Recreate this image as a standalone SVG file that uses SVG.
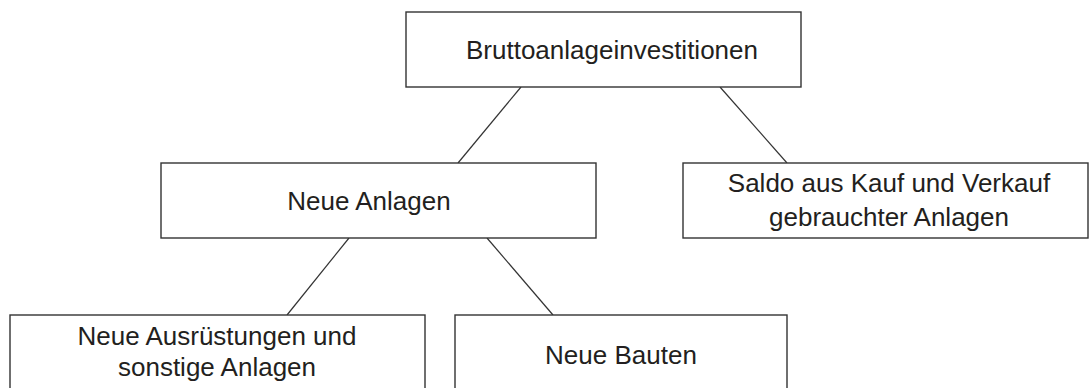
<svg xmlns="http://www.w3.org/2000/svg" width="1091" height="388" viewBox="0 0 1091 388">
<style>
.box{fill:#fff;stroke:#333;stroke-width:1.4}
.t{font-family:"Liberation Sans",Arial,sans-serif;font-size:26px;fill:#231f20;text-anchor:middle}
.c{stroke:#333;stroke-width:1.2;fill:none}
</style>
<rect width="1091" height="388" fill="#fff"/>
<g id="connectors">
<line class="c" x1="521" y1="87" x2="458" y2="163"/>
<line class="c" x1="720" y1="87" x2="787" y2="163"/>
<line class="c" x1="349" y1="238" x2="287" y2="315"/>
<line class="c" x1="487" y1="238" x2="553" y2="315"/>
</g>
<g id="n1">
<rect class="box" x="406" y="12" width="395" height="75"/>
<text class="t" x="612" y="59">Bruttoanlageinvestitionen</text>
</g>
<g id="n2">
<rect class="box" x="161" y="163" width="435" height="75"/>
<text class="t" x="369" y="210">Neue Anlagen</text>
</g>
<g id="n3">
<rect class="box" x="683" y="163" width="405" height="75"/>
<text class="t" x="889" y="192">Saldo aus Kauf und Verkauf</text>
<text class="t" x="889" y="226">gebrauchter Anlagen</text>
</g>
<g id="n4">
<rect class="box" x="10" y="315" width="415" height="80"/>
<text class="t" x="217" y="345">Neue Ausrüstungen und</text>
<text class="t" x="217" y="376">sonstige Anlagen</text>
</g>
<g id="n5">
<rect class="box" x="455" y="315" width="332" height="80"/>
<text class="t" x="621" y="364">Neue Bauten</text>
</g>
</svg>
